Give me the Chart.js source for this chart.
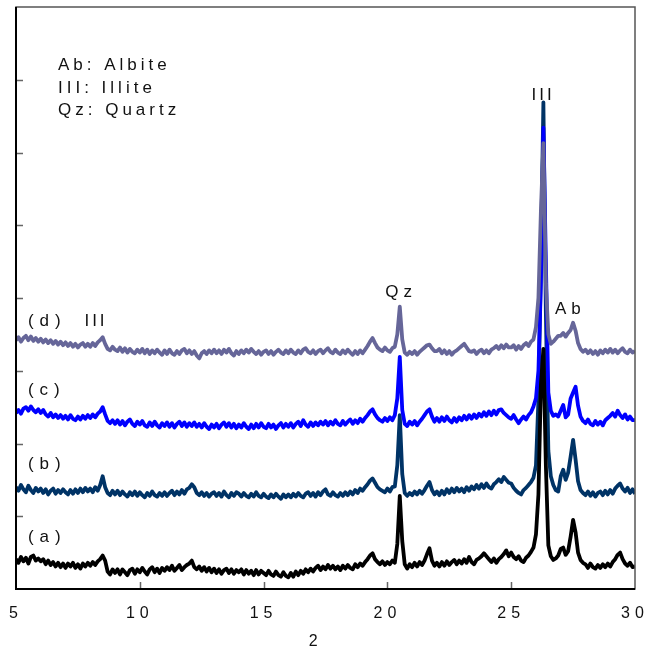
<!DOCTYPE html>
<html>
<head>
<meta charset="utf-8">
<script src="https://cdn.jsdelivr.net/npm/chart.js@4/dist/chart.umd.min.js"></script>
<style>
  html, body { margin: 0; padding: 0; background: #fff; }
  canvas { display: block; }
</style>
</head>
<body>
<canvas id="xrd" width="647" height="655"></canvas>
<script>
// XRD scans, 2-theta 5..30 deg at 0.1 deg steps, traces offset vertically (a.u.)
const scanStart = 5;
const scanStep = 0.1;

const sampleA = [
  41, 36, 44, 38, 43, 35, 44, 46, 39, 42,
  38, 41, 34, 39, 33, 37, 31, 36, 30, 35,
  29, 35, 31, 36, 29, 34, 28, 35, 31, 36,
  32, 37, 33, 38, 41, 46, 39, 24, 20, 27,
  22, 27, 20, 27, 23, 19, 26, 28, 21, 27,
  23, 29, 24, 20, 27, 30, 23, 28, 22, 29,
  25, 30, 26, 32, 25, 29, 33, 26, 30, 33,
  35, 39, 30, 27, 31, 25, 30, 24, 29, 23,
  28, 22, 27, 21, 26, 28, 22, 27, 21, 26,
  23, 27, 20, 26, 21, 25, 19, 26, 20, 25,
  22, 19, 25, 20, 18, 24, 19, 17, 23, 18,
  16, 22, 17, 24, 19, 25, 21, 27, 23, 28,
  24, 29, 32, 26, 31, 27, 33, 28, 32, 27,
  31, 26, 32, 28, 33, 29, 27, 34, 30, 35,
  32, 37, 41, 46, 49, 41, 37, 34, 38, 33,
  37, 34, 39, 36, 62, 128, 66, 34, 28, 34,
  30, 36, 31, 37, 33, 39, 48, 56, 39, 32,
  36, 31, 37, 32, 38, 33, 37, 40, 34, 39,
  35, 41, 36, 44, 37, 34, 40, 42, 45, 49,
  45, 41, 37, 42, 36, 41, 44, 48, 53, 45,
  50, 44, 41, 45, 39, 37, 43, 46, 51, 57,
  75, 130, 280, 330, 170, 60, 45, 40, 42, 46,
  55, 57, 47, 52, 72, 95, 78, 50, 40, 36,
  34, 29, 35, 30, 28, 33, 29, 34, 30, 35,
  31, 37, 41, 47, 50, 41, 35, 32, 36, 30,
  31
];

const sampleB = [
  140, 135, 143, 137, 133, 142, 136, 132, 139, 134,
  138, 132, 137, 130, 135, 138, 131, 136, 132, 137,
  133, 130, 136, 131, 137, 132, 138, 133, 139, 134,
  138, 133, 140, 135, 143, 155, 140, 132, 129, 135,
  130, 135, 129, 134, 130, 127, 133, 129, 134, 128,
  133, 129, 126, 132, 128, 134, 129, 127, 132, 128,
  133, 128, 132, 135, 129, 134, 130, 136, 131, 137,
  139, 144, 140, 132, 129, 133, 128, 132, 127, 131,
  133, 128, 132, 127, 134, 129, 126, 132, 128, 133,
  131, 127, 132, 128, 126, 131, 127, 133, 128, 126,
  131, 127, 125, 130, 126, 131, 127, 124, 130, 126,
  130, 126, 131, 127, 132, 128, 126, 131, 133, 128,
  132, 127, 133, 129, 134, 137, 130, 128, 133, 129,
  127, 132, 128, 133, 129, 134, 130, 136, 132, 138,
  135, 140, 144, 149, 152, 146, 140, 137, 135, 133,
  138, 134, 140, 141, 170, 239, 158, 132, 128, 132,
  129, 134, 130, 135, 131, 136, 142, 147, 136, 130,
  134, 129, 135, 130, 137, 132, 138, 133, 139, 134,
  138, 133, 140, 135, 141, 137, 143, 138, 144, 139,
  145, 140, 138, 144, 147, 151, 147, 154, 150, 146,
  145, 139, 135, 132, 130, 136, 139, 143, 147, 153,
  170, 260, 450, 669, 380, 190, 155, 143, 136, 134,
  155, 164, 150, 160, 182, 205, 178, 148, 136, 132,
  129, 134, 128, 133, 127, 132, 134, 129, 135, 130,
  136, 131, 138, 142, 145, 138, 134, 139, 132, 137,
  131
];

const sampleC = [
  242, 246, 241, 248, 250, 245, 251, 246, 243, 247,
  242, 246, 240, 237, 242, 236, 240, 235, 239, 234,
  238, 233, 239, 234, 232, 237, 233, 238, 234, 239,
  235, 240, 236, 241, 244, 250, 240, 231, 228, 232,
  227, 232, 226, 231, 225, 230, 233, 227, 224, 230,
  226, 231, 225, 223, 229, 224, 230, 225, 222, 228,
  224, 229, 223, 228, 222, 227, 230, 224, 229, 223,
  228, 224, 229, 223, 227, 222, 228, 223, 220, 226,
  222, 227, 221, 226, 229, 223, 228, 222, 227, 221,
  226, 222, 228, 223, 220, 226, 221, 227, 222, 228,
  223, 221, 227, 222, 226, 220, 225, 228, 222, 227,
  223, 228, 222, 227, 230, 224, 232, 226, 223, 229,
  224, 229, 225, 230, 226, 231, 225, 230, 226, 232,
  227, 225, 231, 226, 230, 233, 227, 232, 228, 234,
  230, 235, 239, 244, 247, 240, 235, 232, 230, 235,
  231, 236, 232, 239, 262, 319, 246, 227, 224, 230,
  226, 231, 225, 230, 234, 239, 244, 247, 237, 230,
  235, 230, 236, 231, 237, 232, 229, 235, 230, 236,
  232, 238, 233, 239, 234, 240, 235, 241, 237, 243,
  238, 244, 239, 245, 240, 246, 247, 242, 239, 236,
  234, 239, 233, 228, 233, 237, 233, 239, 243, 251,
  262, 300, 420, 634, 450, 270, 245, 238, 240, 237,
  245, 253, 236, 240, 262, 270, 278, 252, 237, 231,
  228, 233, 227, 225, 231, 226, 230, 225, 232, 235,
  238, 242, 237, 245, 239, 235, 240, 233, 237, 232,
  232
];

const sampleD = [
  342, 346, 340, 345, 348, 342, 347, 341, 345, 340,
  344, 339, 343, 338, 342, 337, 341, 336, 340, 335,
  339, 334, 338, 333, 337, 332, 336, 338, 333, 337,
  333, 338, 334, 339, 342, 346, 337, 330, 328, 333,
  329, 327, 332, 326, 331, 325, 330, 326, 324, 329,
  325, 330, 324, 329, 323, 328, 324, 329, 325, 322,
  328, 323, 329, 324, 322, 327, 323, 328, 330, 324,
  328, 323, 327, 321, 317, 324, 327, 323, 328, 324,
  329, 324, 328, 323, 329, 325, 330, 324, 321, 327,
  323, 328, 324, 329, 325, 330, 326, 323, 327, 322,
  326, 328, 323, 327, 322, 326, 329, 325, 323, 328,
  324, 329, 325, 323, 328, 324, 329, 331, 326, 324,
  328, 323, 327, 329, 324, 328, 331, 326, 324, 329,
  325, 323, 328, 324, 329, 325, 322, 327, 323, 328,
  324, 329, 334, 340, 345, 338, 332, 329, 327, 332,
  328, 326, 331, 333, 350, 388, 343, 325, 322, 326,
  323, 327, 322, 326, 329, 332, 335, 336, 331, 327,
  327, 330, 324, 328, 323, 327, 322, 326, 328, 331,
  334, 337, 332, 327, 326, 328, 323, 327, 329, 324,
  328, 324, 329, 331, 334, 330, 335, 331, 336, 332,
  332, 335, 329, 334, 330, 335, 338, 334, 340, 343,
  360, 400, 520, 613, 420, 350, 337, 340, 344, 348,
  348, 352, 347, 352, 356, 366, 355, 338, 330, 326,
  329, 324, 328, 323, 327, 322, 328, 324, 329, 325,
  330, 325, 329, 324, 328, 331, 326, 324, 329, 325,
  327
];

const xTicks = [5, 10, 15, 20, 25, 30];
const yTicks = [100, 200, 300, 400, 500, 600, 700];

const seriesColors = ['#000000', '#003366', '#0000ff', '#666699'];

function toPoints(values) {
  return values.map((v, i) => ({ x: +(scanStart + i * scanStep).toFixed(1), y: v }));
}

const FONT = '"Liberation Sans", Arial, sans-serif';

// peak and trace labels, in data coordinates
const notes = [
  { text: '(d)', x: 5.48, y: 361, align: 'left', spacing: 6 },
  { text: 'III', x: 8.17, y: 361, align: 'center', spacing: 3 },
  { text: '(c)', x: 5.48, y: 267, align: 'left', spacing: 6 },
  { text: '(b)', x: 5.48, y: 165, align: 'left', spacing: 6 },
  { text: '(a)', x: 5.48, y: 65, align: 'left', spacing: 6 },
  { text: 'Qz', x: 20.45, y: 401, align: 'center', spacing: 5 },
  { text: 'III', x: 26.23, y: 672, align: 'center', spacing: 3 },
  { text: 'Ab', x: 27.29, y: 378, align: 'center', spacing: 5 }
];

const keyLines = ['Ab: Albite', 'III: Illite', 'Qz: Quartz'];

const xrdDecor = {
  id: 'xrdDecor',
  beforeDraw(chart) {
    chart.ctx.letterSpacing = '5px';
  },
  afterDraw(chart) {
    const { ctx, chartArea: area, scales: { x, y } } = chart;
    ctx.save();

    // inner tick marks
    ctx.lineWidth = 1.5;
    ctx.strokeStyle = '#666';
    ctx.beginPath();
    xTicks.slice(1, -1).forEach(t => {
      const px = Math.round(x.getPixelForValue(t)) + 0.5;
      ctx.moveTo(px, area.bottom);
      ctx.lineTo(px, area.bottom - 7);
    });
    yTicks.forEach(t => {
      const py = Math.round(y.getPixelForValue(t)) + 0.5;
      ctx.moveTo(area.left, py);
      ctx.lineTo(area.left + 7, py);
    });
    ctx.stroke();

    // frame
    ctx.strokeStyle = '#555';
    ctx.lineWidth = 1.5;
    ctx.strokeRect(area.left, area.top, area.right - area.left, area.bottom - area.top);
    ctx.strokeStyle = '#000';
    ctx.lineWidth = 2;
    ctx.beginPath();
    ctx.moveTo(area.left, area.top);
    ctx.lineTo(area.left, area.bottom);
    ctx.lineTo(area.right, area.bottom);
    ctx.stroke();

    // labels
    ctx.fillStyle = '#111';
    ctx.textBaseline = 'alphabetic';
    ctx.font = '17px ' + FONT;
    notes.forEach(n => {
      ctx.letterSpacing = n.spacing + 'px';
      ctx.textAlign = n.align;
      let px = x.getPixelForValue(n.x);
      if (n.align === 'center') px += n.spacing / 2;
      ctx.fillText(n.text, px, y.getPixelForValue(n.y));
    });

    ctx.letterSpacing = '4px';
    ctx.textAlign = 'left';
    keyLines.forEach((line, i) => {
      ctx.fillText(line, area.left + 42, area.top + 63 + i * 22.5);
    });

    // axis title
    ctx.letterSpacing = '0px';
    ctx.font = '16px ' + FONT;
    ctx.textAlign = 'center';
    ctx.fillText('2', x.getPixelForValue(17), 646);

    ctx.restore();
    ctx.letterSpacing = '0px';
  }
};

new Chart(document.getElementById('xrd'), {
  type: 'line',
  data: {
    datasets: [
      { label: '(a)', data: toPoints(sampleA), borderColor: seriesColors[0], order: 1 },
      { label: '(b)', data: toPoints(sampleB), borderColor: seriesColors[1], order: 4 },
      { label: '(c)', data: toPoints(sampleC), borderColor: seriesColors[2], order: 3 },
      { label: '(d)', data: toPoints(sampleD), borderColor: seriesColors[3], order: 2 }
    ]
  },
  options: {
    responsive: false,
    animation: false,
    events: [],
    layout: { padding: { left: 16, right: 12, top: 7, bottom: 0 } },
    elements: {
      line: { borderWidth: 3.8, tension: 0, fill: false, borderJoinStyle: 'round' },
      point: { radius: 0 }
    },
    plugins: {
      legend: { display: false },
      tooltip: { enabled: false }
    },
    scales: {
      x: {
        type: 'linear',
        min: 5,
        max: 30,
        grid: { display: false, drawTicks: false },
        border: { display: false },
        ticks: {
          stepSize: 5,
          padding: 0,
          color: '#111',
          // tall line box pushes the labels down below the frame
          font: { size: 16, family: FONT, lineHeight: 3.125 }
        },
        afterFit(scale) { scale.height = 66; }
      },
      y: {
        display: false,
        min: 0,
        max: 800
      }
    }
  },
  plugins: [xrdDecor]
});
</script>
</body>
</html>
